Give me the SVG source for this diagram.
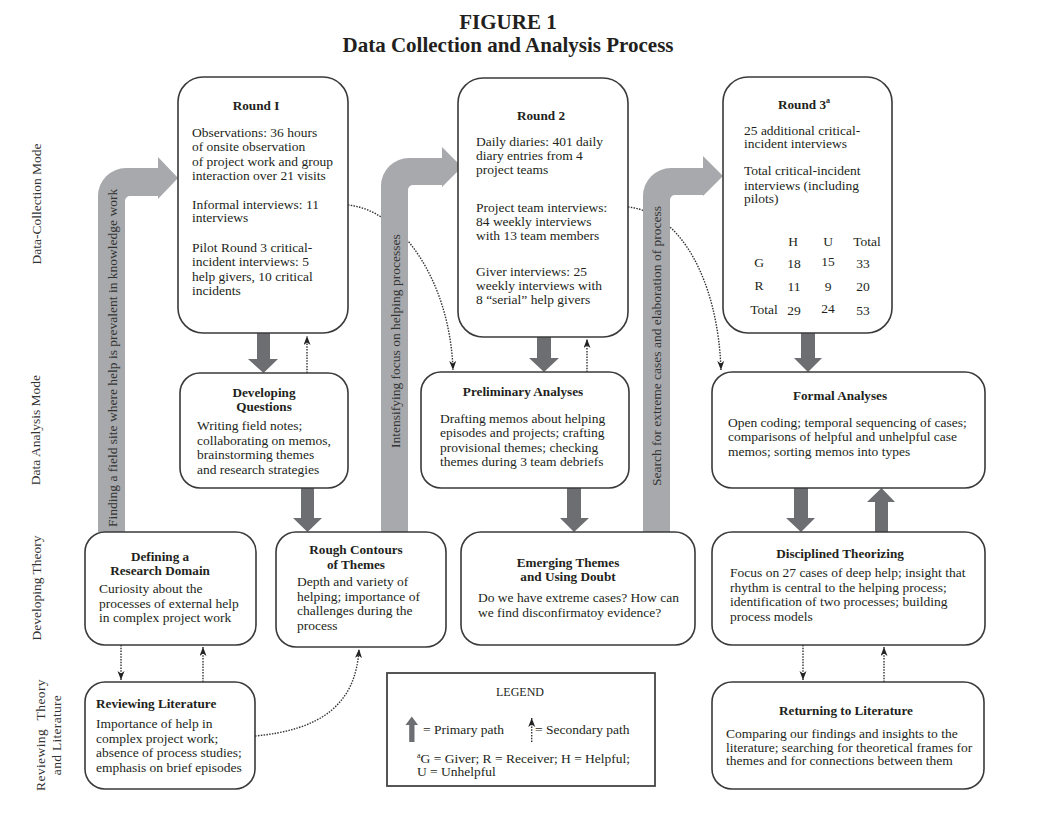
<svg xmlns="http://www.w3.org/2000/svg" width="1045" height="813" viewBox="0 0 1045 813">
<defs>
<style>
text{font-family:"Liberation Serif","Times New Roman",serif;fill:#231f20;font-size:13.5px}
.b{font-weight:bold;font-size:13.2px}
.m{text-anchor:middle}
.box{fill:#fff;stroke:#3a3a3a;stroke-width:1.6}
.gray{fill:#a7a9ac}
.dark{fill:#6d6e71}
.sec{fill:none;stroke:#333;stroke-width:1.4;stroke-dasharray:1.5 1.3;marker-end:url(#ah)}
.lab{fill:#333}
.row{fill:#333;text-anchor:middle}
</style>
<marker id="ah" markerUnits="userSpaceOnUse" markerWidth="10" markerHeight="8" refX="9" refY="3.5" orient="auto">
<path d="M0,0 L9,3.5 L0,7 L2.5,3.5 Z" fill="#222"/>
</marker>
</defs>
<rect width="1045" height="813" fill="#fff"/>

<g id="title">
<text x="508" y="29" class="m" style="font-weight:bold;font-size:21px">FIGURE 1</text>
<text x="508" y="52" class="m" style="font-weight:bold;font-size:21px">Data Collection and Analysis Process</text>
</g>

<g id="row-labels">
<text class="row" transform="translate(41,204) rotate(-90)">Data-Collection Mode</text>
<text class="row" transform="translate(40,430) rotate(-90)">Data Analysis Mode</text>
<text class="row" transform="translate(41,588) rotate(-90)">Developing Theory</text>
<text class="row" transform="translate(45,735) rotate(-90)" style="word-spacing:5px;letter-spacing:0.4px">Reviewing Theory</text>
<text class="row" transform="translate(61,735) rotate(-90)" style="letter-spacing:0.3px">and Literature</text>
</g>

<g id="connectors">
<!-- secondary (dotted) paths -->
<path class="sec" d="M307,373 V336"/>
<path class="sec" d="M587,372 V339"/>
<path class="sec" d="M348,205 C400,210 450,280 453,370"/>
<path class="sec" d="M628,207 C680,212 718,280 721,370"/>
<path class="sec" d="M121,645 V680"/>
<path class="sec" d="M203,682 V647"/>
<path class="sec" d="M255,736 C320,730 356,705 359,649"/>
<path class="sec" d="M803,645 V680"/>
<path class="sec" d="M884,682 V647"/>
<!-- large gray primary paths -->
<path class="gray" d="M98,532 V196 A28,28 0 0 1 126,168 H158 V157 L178,178 L158,199 V196 H130 A5,5 0 0 0 125,201 V532 Z"/>
<path class="gray" d="M381,532 V186 A28,28 0 0 1 409,158 H442 V147 L462,167 L442,187 V185 H413 A5,5 0 0 0 408,190 V532 Z"/>
<path class="gray" d="M643,532 V196 A28,28 0 0 1 671,168 H703 V156 L723,176 L703,196 V195 H675 A5,5 0 0 0 670,200 V532 Z"/>
<text class="lab" transform="translate(116.5,527) rotate(-90)">Finding a field site where help is prevalent in knowledge work</text>
<text class="lab" transform="translate(399.5,448) rotate(-90)">Intensifying focus on helping processes</text>
<text class="lab" transform="translate(660.5,486) rotate(-90)">Search for extreme cases and elaboration of process</text>
<!-- dark primary arrows -->
<path class="dark" d="M257,333 H270 V359 H278 L263.5,373 L248,359 H257 Z"/>
<path class="dark" d="M301,488 H314 V518 H322 L307.5,532 L293,518 H301 Z"/>
<path class="dark" d="M537,337 H551 V358 H559 L544,372 L529,358 H537 Z"/>
<path class="dark" d="M567,488 H581 V518 H589 L574,532 L560,518 H567 Z"/>
<path class="dark" d="M801,333 H815 V358 H822 L808,372 L794,358 H801 Z"/>
<path class="dark" d="M794,488 H808 V518 H815 L801,532 L786,518 H794 Z"/>
<path class="dark" d="M875,532 H888 V502 H895 L881.5,488 L867,502 H875 Z"/>
</g>

<g id="round1">
<rect class="box" x="178" y="77" width="170" height="256" rx="25"/>
<text class="b m" x="256" y="110">Round I</text>
<text x="192" y="137">Observations: 36 hours</text>
<text x="192" y="151">of onsite observation</text>
<text x="192" y="166">of project work and group</text>
<text x="192" y="180">interaction over 21 visits</text>
<text x="192" y="209">Informal interviews: 11</text>
<text x="192" y="222">interviews</text>
<text x="192" y="252">Pilot Round 3 critical-</text>
<text x="192" y="266">incident interviews: 5</text>
<text x="192" y="281">help givers, 10 critical</text>
<text x="192" y="295">incidents</text>
</g>

<g id="round2">
<rect class="box" x="458" y="78" width="170" height="259" rx="25"/>
<text class="b m" x="541" y="120">Round 2</text>
<text x="476" y="146">Daily diaries: 401 daily</text>
<text x="476" y="160">diary entries from 4</text>
<text x="476" y="174">project teams</text>
<text x="476" y="212">Project team interviews:</text>
<text x="476" y="226">84 weekly interviews</text>
<text x="476" y="240">with 13 team members</text>
<text x="476" y="276">Giver interviews: 25</text>
<text x="476" y="290">weekly interviews with</text>
<text x="476" y="304">8 “serial” help givers</text>
</g>

<g id="round3">
<rect class="box" x="723" y="77" width="169" height="256" rx="25"/>
<text class="b m" x="804" y="109">Round 3<tspan font-size="8" dy="-6">a</tspan></text>
<text x="744" y="135">25 additional critical-</text>
<text x="744" y="148">incident interviews</text>
<text x="744" y="175">Total critical-incident</text>
<text x="744" y="190">interviews (including</text>
<text x="744" y="203">pilots)</text>
<g class="m">
<text class="m" x="793" y="246">H</text>
<text class="m" x="828" y="246">U</text>
<text class="m" x="867" y="246">Total</text>
<text class="m" x="759" y="267">G</text>
<text class="m" x="794" y="268">18</text>
<text class="m" x="828" y="266">15</text>
<text class="m" x="863" y="268">33</text>
<text class="m" x="759" y="290">R</text>
<text class="m" x="794" y="291">11</text>
<text class="m" x="828" y="291">9</text>
<text class="m" x="863" y="291">20</text>
<text class="m" x="764" y="314">Total</text>
<text class="m" x="794" y="315">29</text>
<text class="m" x="828" y="313">24</text>
<text class="m" x="863" y="315">53</text>
</g>
</g>

<g id="developing-questions">
<rect class="box" x="180" y="373" width="168" height="115" rx="20"/>
<text class="b m" x="264" y="397">Developing</text>
<text class="b m" x="264" y="410.5">Questions</text>
<text x="197" y="430">Writing field notes;</text>
<text x="197" y="445">collaborating on memos,</text>
<text x="197" y="459">brainstorming themes</text>
<text x="197" y="474">and research strategies</text>
</g>

<g id="preliminary-analyses">
<rect class="box" x="421" y="372" width="208" height="116" rx="20"/>
<text class="b m" x="523" y="396">Preliminary Analyses</text>
<text x="440" y="423">Drafting memos about helping</text>
<text x="440" y="437">episodes and projects; crafting</text>
<text x="440" y="452">provisional themes; checking</text>
<text x="440" y="466">themes during 3 team debriefs</text>
</g>

<g id="formal-analyses">
<rect class="box" x="712" y="372" width="273" height="116" rx="20"/>
<text class="b m" x="840" y="400">Formal Analyses</text>
<text x="728" y="427">Open coding; temporal sequencing of cases;</text>
<text x="728" y="441">comparisons of helpful and unhelpful case</text>
<text x="728" y="456">memos; sorting memos into types</text>
</g>

<g id="defining-domain">
<rect class="box" x="85" y="532" width="171" height="113" rx="20"/>
<text class="b m" x="160" y="560.5">Defining a</text>
<text class="b m" x="160" y="574.5">Research Domain</text>
<text x="99" y="593">Curiosity about the</text>
<text x="99" y="608">processes of external help</text>
<text x="99" y="622">in complex project work</text>
</g>

<g id="rough-contours">
<rect class="box" x="276" y="532" width="170" height="115" rx="20"/>
<text class="b m" x="356" y="553.5">Rough Contours</text>
<text class="b m" x="356" y="568.5">of Themes</text>
<text x="297" y="586">Depth and variety of</text>
<text x="297" y="601">helping; importance of</text>
<text x="297" y="615">challenges during the</text>
<text x="297" y="630">process</text>
</g>

<g id="emerging-themes">
<rect class="box" x="461" y="532" width="234" height="113" rx="20"/>
<text class="b m" x="568" y="567">Emerging Themes</text>
<text class="b m" x="568" y="581">and Using Doubt</text>
<text x="478" y="602">Do we have extreme cases? How can</text>
<text x="478" y="617">we find disconfirmatoy evidence?</text>
</g>

<g id="disciplined-theorizing">
<rect class="box" x="712" y="532" width="273" height="113" rx="20"/>
<text class="b m" x="840" y="558">Disciplined Theorizing</text>
<text x="730" y="577">Focus on 27 cases of deep help; insight that</text>
<text x="730" y="592">rhythm is central to the helping process;</text>
<text x="730" y="606">identification of two processes; building</text>
<text x="730" y="621">process models</text>
</g>

<g id="reviewing-literature">
<rect class="box" x="85" y="682" width="170" height="107" rx="20"/>
<text class="b" x="96" y="708">Reviewing Literature</text>
<text x="96" y="728">Importance of help in</text>
<text x="96" y="743">complex project work;</text>
<text x="96" y="757">absence of process studies;</text>
<text x="96" y="772">emphasis on brief episodes</text>
</g>

<g id="legend">
<rect x="387" y="673" width="268" height="113" fill="#fff" stroke="#444" stroke-width="1.8"/>
<text class="m" x="520" y="696" style="font-size:12px">LEGEND</text>
<path class="dark" d="M405.5,725 L411.8,716.5 L418,725 L414.5,725 L414.5,742 L409.2,742 L409.2,725 Z"/>
<text x="423" y="734">= Primary path</text>
<path class="sec" d="M531.7,742 V718"/>
<text x="535" y="734">= Secondary path</text>
<text x="417" y="763"><tspan font-size="8" dy="-5">a</tspan><tspan dy="5">G = Giver; R = Receiver; H = Helpful;</tspan></text>
<text x="417" y="776">U = Unhelpful</text>
</g>

<g id="returning-literature">
<rect class="box" x="712" y="682" width="272" height="107" rx="20"/>
<text class="b m" x="846" y="714.5">Returning to Literature</text>
<text x="726" y="737.5">Comparing our findings and insights to the</text>
<text x="726" y="751.5">literature; searching for theoretical frames for</text>
<text x="726" y="765">themes and for connections between them</text>
</g>
</svg>
